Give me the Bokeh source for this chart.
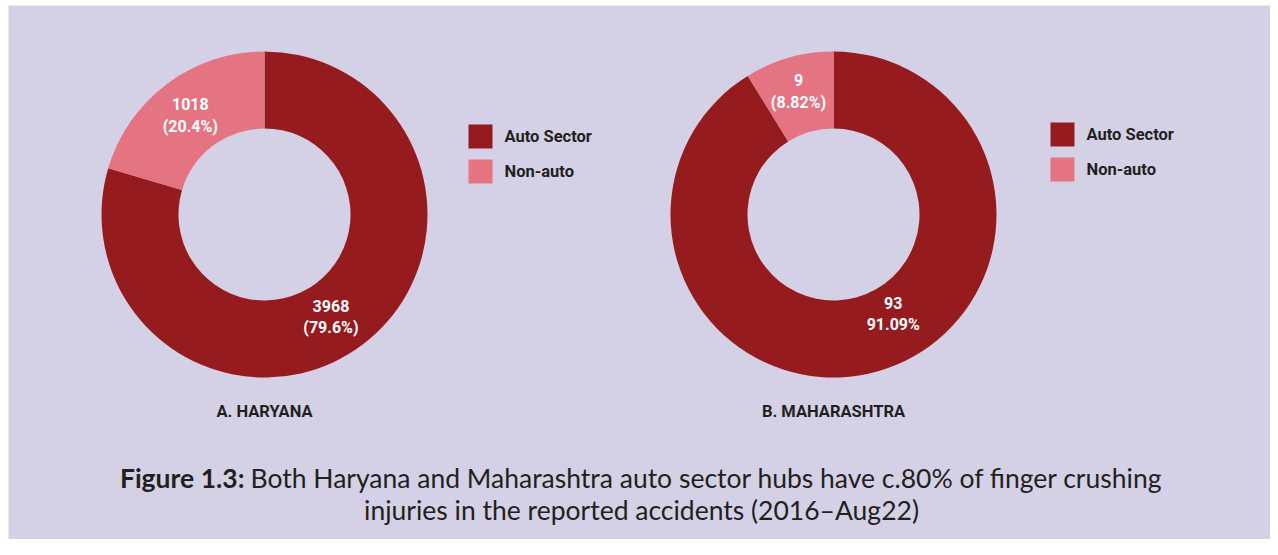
import math
from bokeh.plotting import figure
from bokeh.models import Range1d, ColumnDataSource
from bokeh.core.properties import value
from bokeh.embed import file_html
from bokeh.resources import INLINE

# ---------------- data ----------------
categories = ["Auto Sector", "Non-auto"]
panel_titles = ["A. HARYANA", "B. MAHARASHTRA"]
haryana_counts = [3968, 1018]
haryana_pct_labels = ["(79.6%)", "(20.4%)"]
maharashtra_counts = [93, 9]
maharashtra_pct_labels = ["91.09%", "(8.82%)"]
caption_bold = "Figure 1.3:"
caption_line1 = "Both Haryana and Maharashtra auto sector hubs have c.80% of finger crushing"
caption_line2 = "injuries in the reported accidents (2016\u2013Aug22)"

# ---------------- style / layout ----------------
W, H = 1270, 539
BG = "#D4D1E6"
COLORS = ["#961B1F", "#E47482"]
DARK = "#231F20"
LABEL_FONT = "Roboto"
CAP_FONT = "Lato"


def X(px):
    return px


def Y(py):
    return H - py


p = figure(width=W, height=H, output_backend="svg", toolbar_location=None,
           x_range=Range1d(0, W), y_range=Range1d(0, H),
           min_border=0, min_border_left=0, min_border_right=0,
           min_border_top=0, min_border_bottom=0)
p.axis.visible = False
p.grid.visible = False
p.outline_line_color = None
p.background_fill_color = "white"
p.border_fill_color = "white"

# lavender panel (white margin at left/top as in reference)
p.quad(left=[X(8)], right=[W], top=[Y(5)], bottom=[0], fill_color=BG,
       line_color=None)

# label placement: (angle in degrees or None for mid-angle, radius)
panels = [
    dict(counts=haryana_counts, pcts=haryana_pct_labels, title=panel_titles[0],
         cx=264, cy=214, legend_x=480, legend_y=136,
         label_pos=[(-57, 122), (None, 124)]),
    dict(counts=maharashtra_counts, pcts=maharashtra_pct_labels, title=panel_titles[1],
         cx=833, cy=214, legend_x=1062, legend_y=134,
         label_pos=[(-59, 116), (None, 128)]),
]
R_OUT, R_IN = 163, 86

for pan in panels:
    counts = pan["counts"]
    total = float(sum(counts))
    fr_auto = counts[0] / total
    fr_non = counts[1] / total
    starts = [math.pi / 2 - fr_auto * 2 * math.pi, math.pi / 2]
    ends = [math.pi / 2, math.pi / 2 + fr_non * 2 * math.pi]
    cx, cy = X(pan["cx"]), Y(pan["cy"])
    src = ColumnDataSource(dict(x=[cx, cx], y=[cy, cy], start=starts, end=ends,
                                color=COLORS))
    p.annular_wedge(x="x", y="y", inner_radius=R_IN, outer_radius=R_OUT,
                    start_angle="start", end_angle="end", fill_color="color",
                    line_color=None, source=src)

    # value labels
    for i in range(2):
        ang, rad = pan["label_pos"][i]
        mid = (starts[i] + ends[i]) / 2 if ang is None else math.radians(ang)
        lx = cx + rad * math.cos(mid)
        ly = cy + rad * math.sin(mid)
        p.text(x=[lx, lx], y=[ly + 11, ly - 11],
               text=[str(counts[i]), pan["pcts"][i]],
               text_color="white", text_font=value(LABEL_FONT),
               text_font_style="bold", text_font_size="16px",
               text_align="center", text_baseline="middle")

    # panel title
    p.text(x=[cx], y=[Y(411)], text=[pan["title"]], text_color=DARK,
           text_font=value(LABEL_FONT), text_font_style="bold",
           text_font_size="16.5px", text_align="center", text_baseline="middle")

    # legend
    lx0 = X(pan["legend_x"])
    for i, cat in enumerate(categories):
        ly = Y(pan["legend_y"] + 35 * i)
        p.rect(x=[lx0], y=[ly], width=24, height=24, fill_color=COLORS[i],
               line_color=None)
        p.text(x=[lx0 + 24], y=[ly], text=[cat], text_color=DARK,
               text_font=value(LABEL_FONT), text_font_style="bold",
               text_font_size="16.5px", text_align="left", text_baseline="middle")

# caption
p.text(x=[X(244)], y=[Y(477)], text=[caption_bold], text_color=DARK,
       text_font=value(CAP_FONT), text_font_style="bold", text_font_size="26.5px",
       text_align="right", text_baseline="middle")
p.text(x=[X(250)], y=[Y(477)], text=[caption_line1], text_color=DARK,
       text_font=value(CAP_FONT), text_font_size="26.5px",
       text_align="left", text_baseline="middle")
p.text(x=[X(641)], y=[Y(509)], text=[caption_line2], text_color=DARK,
       text_font=value(CAP_FONT), text_font_size="26.5px",
       text_align="center", text_baseline="middle")

open("out.html", "w").write(file_html(p, INLINE))
